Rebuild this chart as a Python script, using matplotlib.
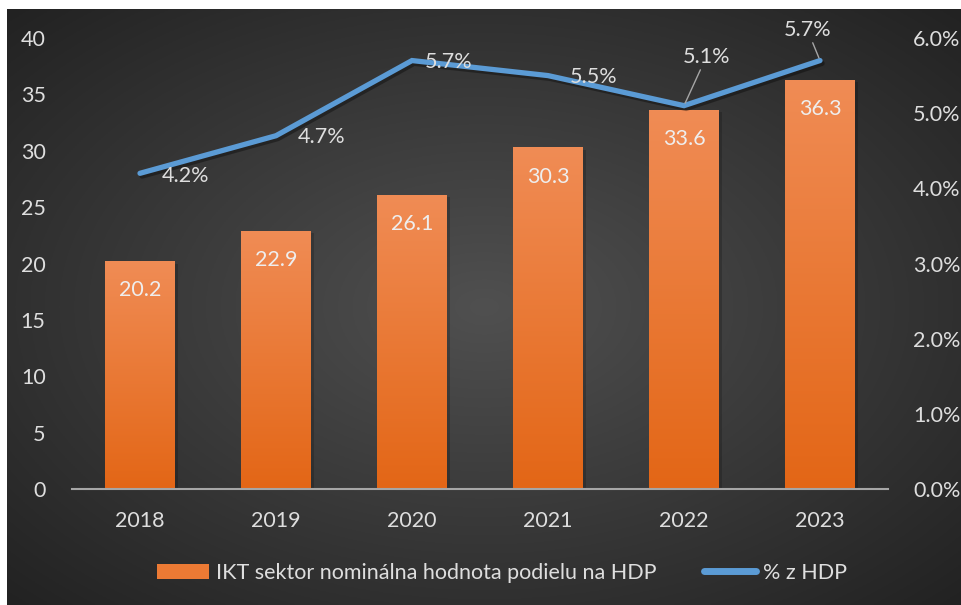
import numpy as np
import matplotlib
matplotlib.use("Agg")
import matplotlib.pyplot as plt
import matplotlib.patheffects as pe
from matplotlib.patches import Patch
from matplotlib.lines import Line2D

years = ["2018", "2019", "2020", "2021", "2022", "2023"]
ikt_value = [20.2, 22.9, 26.1, 30.3, 33.6, 36.3]
pct_hdp = [4.2, 4.7, 5.7, 5.5, 5.1, 5.7]
pct_labels = ["4.2%", "4.7%", "5.7%", "5.5%", "5.1%", "5.7%"]
left_ticks = [0, 5, 10, 15, 20, 25, 30, 35, 40]
right_ticks = [0, 1, 2, 3, 4, 5, 6]

legend_bar = "IKT sektor nominálna hodnota podielu na HDP"
legend_line = "% z HDP"

plt.rcParams['font.family'] = ['Lato', 'DejaVu Sans']
txt_col = '#dedede'
fs = 15.5

W, H = 962, 605
fig = plt.figure(figsize=(W / 100, H / 100), dpi=100, facecolor='white')

# dark radial background (white strip at top and left)
bg = fig.add_axes([7 / W, 0, (W - 7) / W, (H - 9) / H])
bg.axis('off')
yy, xx = np.mgrid[-1:1:300j, -1:1:480j]
r = np.sqrt(xx ** 2 + yy ** 2) / np.sqrt(2)
c1 = np.array([0x50, 0x50, 0x50]) / 255
c2 = np.array([0x22, 0x22, 0x22]) / 255
img = c1[None, None, :] * (1 - r[..., None]) + c2[None, None, :] * r[..., None]
bg.imshow(img, aspect='auto', extent=(0, 1, 0, 1))

# plot area
x0, x1 = 72, 888
y0, y1 = 489, 38
ax = fig.add_axes([x0 / W, 1 - y0 / H, (x1 - x0) / W, (y0 - y1) / H])
ax.set_facecolor('none')
ax2 = ax.twinx()

x = np.arange(len(years))
bars = ax.bar(x, ikt_value, width=0.51, color='none', zorder=2)

# gradient fill inside each bar
grad = np.linspace(0, 1, 256)[:, None]
top = np.array([0xf0, 0x8c, 0x55]) / 255
bot = np.array([0xe3, 0x66, 0x16]) / 255
gimg = top[None, None, :] * (1 - grad[..., None]) + bot[None, None, :] * grad[..., None]
for b in bars:
    bx, bw, bh = b.get_x(), b.get_width(), b.get_height()
    # soft shadow
    ax.bar(bx + bw / 2 + 0.025, bh - 0.2, width=bw, bottom=0, color='black', alpha=0.18, zorder=1)
    im = ax.imshow(gimg, aspect='auto', extent=(bx, bx + bw, 0, bh), zorder=2)
    im.set_clip_path(b)

for xi, v in zip(x, ikt_value):
    ax.annotate(f"{v:.1f}", (xi, v), xytext=(0, -21), textcoords='offset points',
                ha='center', va='center', color='#eeeeee', fontsize=fs, zorder=4)

ax.set_xlim(-0.5, len(years) - 0.5)
ax.set_ylim(0, 40)
ax.set_yticks(left_ticks)
ax.set_xticks(x, years)
for s in ['top', 'right', 'left']:
    ax.spines[s].set_visible(False)
ax.spines['bottom'].set_color('#a6a6a6')
ax.spines['bottom'].set_linewidth(1.5)
ax.tick_params(axis='both', length=0, colors=txt_col, labelsize=fs)
ax.tick_params(axis='y', pad=19)
ax.tick_params(axis='x', pad=16)

ax2.set_ylim(0, 6)
ax2.set_yticks(right_ticks, [f"{t:.1f}%" for t in right_ticks])
for s in ax2.spines.values():
    s.set_visible(False)
ax2.tick_params(axis='y', length=0, colors=txt_col, labelsize=fs, pad=18)

ax2.plot(x, pct_hdp, color='#5b9bd5', lw=3.8, solid_capstyle='round', solid_joinstyle='miter', zorder=3,
         path_effects=[pe.SimpleLineShadow(offset=(1.5, -2), alpha=0.35, shadow_color='black'), pe.Normal()])

# line labels (offsets in points)
offs = [(33, -2), (33, -1), (26, -1), (33, -1), (16, 35), (-9, 22)]
for i, (xi, v, lab) in enumerate(zip(x, pct_hdp, pct_labels)):
    kw = {}
    if i >= 4:
        kw['arrowprops'] = dict(arrowstyle='-', color='#a6a6a6', lw=1, shrinkA=0, shrinkB=2)
    ax2.annotate(lab, (xi, v), xytext=offs[i], textcoords='offset points',
                 ha='center', va='center', color=txt_col, fontsize=fs, zorder=5, **kw)

handles = [Patch(facecolor='#ec7a34', edgecolor='none'),
           Line2D([0], [0], color='#5b9bd5', lw=5, solid_capstyle='round')]
leg = fig.legend(handles, [legend_bar, legend_line], loc='center', bbox_to_anchor=(502 / W, 1 - 573 / H),
                 ncol=2, frameon=False, fontsize=fs, labelcolor=txt_col, handlelength=2.4,
                 handleheight=0.7, handletextpad=0.35, columnspacing=2.2)

fig.savefig("out.png", dpi=100, facecolor='white')
